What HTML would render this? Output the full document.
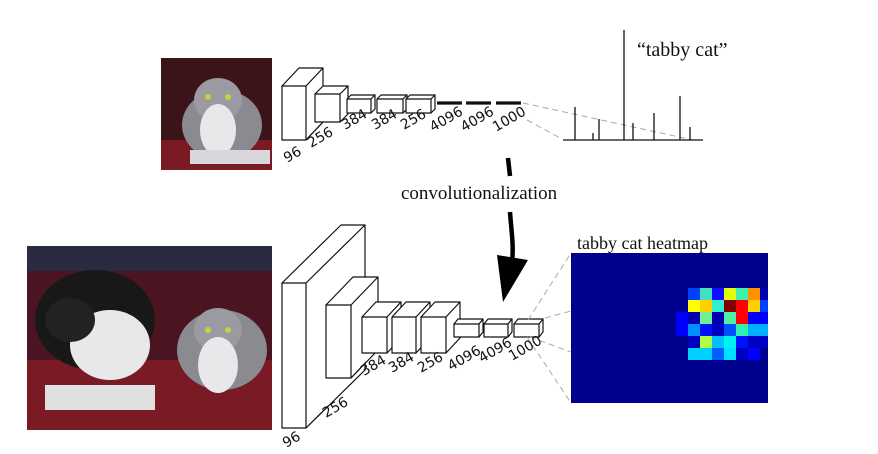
<!DOCTYPE html>
<html><head><meta charset="utf-8"><style>
html,body{margin:0;padding:0;background:#fff;}
svg{display:block;}
.l{font-family:"DejaVu Sans","Liberation Sans",sans-serif;font-size:14px;fill:#111;}
.s{font-family:"Liberation Serif",serif;fill:#111;}
</style></head><body>
<svg width="878" height="454" viewBox="0 0 878 454" xmlns="http://www.w3.org/2000/svg">
<rect x="161" y="58" width="111" height="112" fill="#3a1418"/>
<rect x="161" y="140" width="111" height="30" fill="#7a1a22"/>
<ellipse cx="222" cy="125" rx="40" ry="35" fill="#8a8a90"/>
<ellipse cx="218" cy="100" rx="24" ry="22" fill="#9a9aa0"/>
<ellipse cx="218" cy="130" rx="18" ry="26" fill="#e8e8ea"/>
<rect x="190" y="150" width="80" height="14" fill="#d8d8dc"/>
<circle cx="208" cy="97" r="3" fill="#c8d040"/><circle cx="228" cy="97" r="3" fill="#c8d040"/>
<rect x="27" y="246" width="245" height="184" fill="#4a1520"/>
<rect x="27" y="246" width="245" height="25" fill="#2a2a40"/>
<rect x="27" y="360" width="245" height="70" fill="#7a1a24"/>
<ellipse cx="95" cy="320" rx="60" ry="50" fill="#181818"/>
<ellipse cx="110" cy="345" rx="40" ry="35" fill="#e8e8e8"/>
<ellipse cx="70" cy="320" rx="25" ry="22" fill="#222"/>
<rect x="45" y="385" width="110" height="25" fill="#e0e0e0"/>
<ellipse cx="222" cy="350" rx="45" ry="40" fill="#8a8a90"/>
<ellipse cx="218" cy="330" rx="24" ry="22" fill="#9a9aa0"/>
<ellipse cx="218" cy="365" rx="20" ry="28" fill="#e8e8ea"/>
<circle cx="208" cy="330" r="3" fill="#c8d040"/><circle cx="228" cy="330" r="3" fill="#c8d040"/>

<g fill="#fff" stroke="#111" stroke-width="1.2" stroke-linejoin="round">
<path d="M282,86 L299,68 L323,68 L323,122 L306,140 Z"/><path d="M282,86 H306 V140 H282 Z M306,86 L323,68"/>
<path d="M315,94 L323,86 L348,86 L348,114 L340,122 Z"/><path d="M315,94 H340 V122 H315 Z M340,94 L348,86"/>
<path d="M347,99 L351,95 L375,95 L375,109 L371,113 Z"/><path d="M347,99 H371 V113 H347 Z M371,99 L375,95"/>
<path d="M377,99 L381,95 L407,95 L407,109 L403,113 Z"/><path d="M377,99 H403 V113 H377 Z M403,99 L407,95"/>
<path d="M406,99 L410,95 L435,95 L435,109 L431,113 Z"/><path d="M406,99 H431 V113 H406 Z M431,99 L435,95"/>
<path d="M282,283 L341,225 L365,225 L365,370 L306,428 Z"/><path d="M282,283 H306 V428 H282 Z M306,283 L365,225"/>
<path d="M326,305 L353,277 L378,277 L378,350 L351,378 Z"/><path d="M326,305 H351 V378 H326 Z M351,305 L378,277"/>
<path d="M362,317 L376,302 L401,302 L401,338 L387,353 Z"/><path d="M362,317 H387 V353 H362 Z M387,317 L401,302"/>
<path d="M392,317 L406,302 L430,302 L430,338 L416,353 Z"/><path d="M392,317 H416 V353 H392 Z M416,317 L430,302"/>
<path d="M421,317 L435,302 L460,302 L460,338 L446,353 Z"/><path d="M421,317 H446 V353 H421 Z M446,317 L460,302"/>
<path d="M454,324 L458,319 L483,319 L483,332 L479,337 Z"/><path d="M454,324 H479 V337 H454 Z M479,324 L483,319"/>
<path d="M484,324 L488,319 L512,319 L512,332 L508,337 Z"/><path d="M484,324 H508 V337 H484 Z M508,324 L512,319"/>
<path d="M514,324 L518,319 L543,319 L543,332 L539,337 Z"/><path d="M514,324 H539 V337 H514 Z M539,324 L543,319"/>
</g>
<g stroke="#111" stroke-width="1">
<line x1="306" y1="140" x2="323" y2="122"/>
<line x1="306" y1="428" x2="328" y2="406"/>
<line x1="351" y1="378" x2="366" y2="362"/>
</g>
<g stroke="#111" stroke-width="3.2"><line x1="437" y1="103" x2="462" y2="103"/><line x1="466" y1="103" x2="491" y2="103"/><line x1="496" y1="103" x2="521" y2="103"/></g>
<g stroke="#aaa" stroke-width="1" stroke-dasharray="6,4" fill="none">
<line x1="523" y1="103" x2="693" y2="140"/><line x1="527" y1="120" x2="562" y2="139"/>
<line x1="528" y1="320" x2="571" y2="253"/><line x1="545" y1="318" x2="571" y2="311"/>
<line x1="530" y1="337" x2="571" y2="352"/><line x1="527" y1="337" x2="571" y2="403"/>
</g>
<g stroke="#111" stroke-width="1.3">
<line x1="563" y1="140" x2="703" y2="140"/>
<line x1="575" y1="140" x2="575" y2="107"/><line x1="593" y1="140" x2="593" y2="133"/>
<line x1="599" y1="140" x2="599" y2="119"/><line x1="624" y1="140" x2="624" y2="30"/>
<line x1="633" y1="140" x2="633" y2="123"/><line x1="654" y1="140" x2="654" y2="113"/>
<line x1="680" y1="140" x2="680" y2="96"/><line x1="690" y1="140" x2="690" y2="127"/>
</g>
<text class="s" x="637" y="56" font-size="20">“tabby cat”</text>
<g stroke="#000" stroke-width="4.5" fill="none"><path d="M508,158 L510,176"/><path d="M510,212 C511,228 514,245 512,262"/></g>
<path d="M497,255 L528,260 L503,302 Z" fill="#000"/>
<text class="s" x="401" y="199" font-size="19">convolutionalization</text>
<g class="l">
<text transform="translate(287,163) rotate(-30)">96</text>
<text transform="translate(311,148) rotate(-30)">256</text>
<text transform="translate(345,130) rotate(-30)">384</text>
<text transform="translate(375,130) rotate(-30)">384</text>
<text transform="translate(404,130) rotate(-30)">256</text>
<text transform="translate(433,132) rotate(-30)">4096</text>
<text transform="translate(464,132) rotate(-30)">4096</text>
<text transform="translate(496,132) rotate(-30)">1000</text>
<text transform="translate(286,448) rotate(-30)">96</text>
<text transform="translate(326,418) rotate(-30)">256</text>
<text transform="translate(364,376) rotate(-30)">384</text>
<text transform="translate(392,373) rotate(-30)">384</text>
<text transform="translate(421,373) rotate(-30)">256</text>
<text transform="translate(451,371) rotate(-30)">4096</text>
<text transform="translate(482,363) rotate(-30)">4096</text>
<text transform="translate(512,361) rotate(-30)">1000</text>
</g>
<text class="s" x="577" y="249" font-size="18">tabby cat heatmap</text>
<rect x="571" y="253" width="197" height="150" fill="#00008f"/>
<g>
<rect x="688" y="288" width="12" height="12" fill="#0040ff"/><rect x="700" y="288" width="12" height="12" fill="#40e0c0"/><rect x="712" y="288" width="12" height="12" fill="#1010ff"/><rect x="724" y="288" width="12" height="12" fill="#e0ff00"/><rect x="736" y="288" width="12" height="12" fill="#40f0b0"/><rect x="748" y="288" width="12" height="12" fill="#ff9000"/><rect x="760" y="288" width="8" height="12" fill="#0000b0"/>
<rect x="688" y="300" width="12" height="12" fill="#ffff00"/><rect x="700" y="300" width="12" height="12" fill="#ffd000"/><rect x="712" y="300" width="12" height="12" fill="#30f0d0"/><rect x="724" y="300" width="12" height="12" fill="#800000"/><rect x="736" y="300" width="12" height="12" fill="#ff0000"/><rect x="748" y="300" width="12" height="12" fill="#ffd000"/><rect x="760" y="300" width="8" height="12" fill="#0040ff"/>
<rect x="676" y="312" width="12" height="12" fill="#0000ff"/><rect x="688" y="312" width="12" height="12" fill="#0000b0"/><rect x="700" y="312" width="12" height="12" fill="#70f090"/><rect x="712" y="312" width="12" height="12" fill="#0000b0"/><rect x="724" y="312" width="12" height="12" fill="#50f0a0"/><rect x="736" y="312" width="12" height="12" fill="#ff0000"/><rect x="748" y="312" width="20" height="12" fill="#0000ff"/>
<rect x="676" y="324" width="12" height="12" fill="#0000ff"/><rect x="688" y="324" width="12" height="12" fill="#0090ff"/><rect x="700" y="324" width="12" height="12" fill="#0010ff"/><rect x="712" y="324" width="12" height="12" fill="#0000c0"/><rect x="724" y="324" width="12" height="12" fill="#0050ff"/><rect x="736" y="324" width="12" height="12" fill="#30f0b0"/><rect x="748" y="324" width="20" height="12" fill="#00b0ff"/>
<rect x="688" y="336" width="12" height="12" fill="#0000c0"/><rect x="700" y="336" width="12" height="12" fill="#b0ff40"/><rect x="712" y="336" width="12" height="12" fill="#00c0ff"/><rect x="724" y="336" width="12" height="12" fill="#00f0f0"/><rect x="736" y="336" width="12" height="12" fill="#0010ff"/><rect x="748" y="336" width="20" height="12" fill="#0000c0"/>
<rect x="688" y="348" width="12" height="12" fill="#00d0ff"/><rect x="700" y="348" width="12" height="12" fill="#00d0ff"/><rect x="712" y="348" width="12" height="12" fill="#0060ff"/><rect x="724" y="348" width="12" height="12" fill="#00e0ff"/><rect x="736" y="348" width="12" height="12" fill="#0000c0"/><rect x="748" y="348" width="12" height="12" fill="#0000ff"/>
</g>
</svg>
</body></html>
